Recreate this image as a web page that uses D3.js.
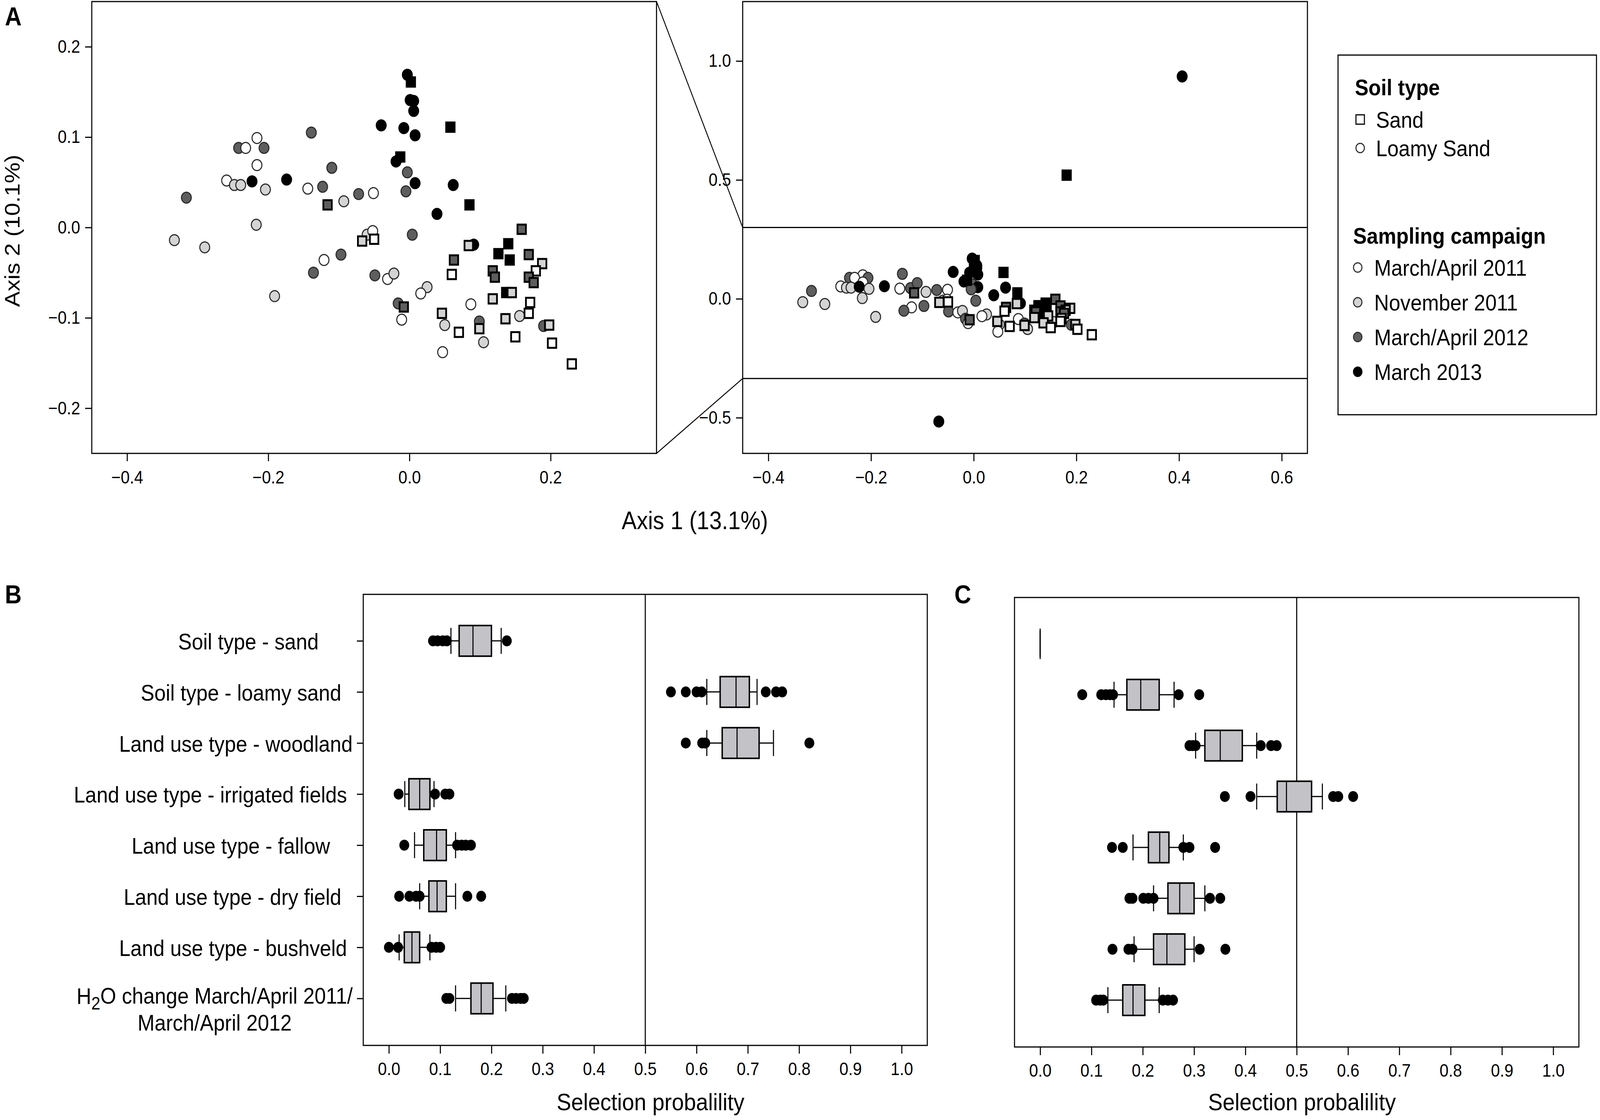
<!DOCTYPE html>
<html lang="en">
<head>
<meta charset="UTF-8">
<title>PCoA and selection probability</title>
<script src="https://d3js.org/d3.v7.min.js"></script>
<style>
  html, body { margin: 0; padding: 0; background: white; overflow: hidden; }
  svg { display: block; width: 100vw; height: 100vh; font-family: "Liberation Sans", Arial, sans-serif; }
  .tick text { fill: black; }
</style>
</head>
<body>
<script>
// ---- data ----
const soilTypes = ["Sand", "Loamy Sand"];
const campaigns = ["March/April 2011", "November 2011", "March/April 2012", "March 2013"];

// PCoA scores: [axis 1, axis 2, soil type index, campaign index]
const pcoaPoints = [
  [-0.139, 0.105, 1, 2], [-0.216, 0.099, 1, 0], [-0.242, 0.088, 1, 2], [-0.232, 0.088, 1, 0],
  [-0.206, 0.088, 1, 2], [-0.216, 0.069, 1, 0], [-0.259, 0.052, 1, 0], [-0.248, 0.047, 1, 1],
  [-0.239, 0.047, 1, 1], [-0.223, 0.051, 1, 3], [-0.204, 0.042, 1, 1], [-0.174, 0.053, 1, 3],
  [-0.144, 0.043, 1, 0], [-0.123, 0.045, 1, 2], [-0.110, 0.066, 1, 2], [-0.072, 0.037, 1, 2],
  [-0.051, 0.038, 1, 0], [-0.093, 0.029, 1, 1], [-0.316, 0.033, 1, 2], [-0.217, 0.003, 1, 1],
  [-0.333, -0.014, 1, 1], [-0.290, -0.022, 1, 1], [-0.060, -0.008, 1, 1], [-0.052, -0.004, 1, 0],
  [-0.097, -0.030, 1, 2], [-0.121, -0.036, 1, 0], [-0.136, -0.050, 1, 2], [-0.191, -0.076, 1, 1],
  [-0.049, -0.053, 1, 2], [0.004, -0.008, 1, 2], [0.091, -0.019, 1, 3], [-0.031, -0.057, 1, 0],
  [-0.022, -0.051, 1, 1], [0.025, -0.066, 1, 1], [0.016, -0.073, 1, 0], [-0.016, -0.084, 1, 2],
  [-0.011, -0.102, 1, 0], [0.087, -0.085, 1, 0], [0.156, -0.098, 1, 1], [0.050, -0.108, 1, 1],
  [0.099, -0.104, 1, 2], [0.105, -0.127, 1, 1], [0.047, -0.138, 1, 0], [0.190, -0.109, 1, 2],
  [-0.003, 0.169, 1, 3], [0.001, 0.141, 1, 3], [0.006, 0.140, 1, 3], [0.006, 0.129, 1, 3],
  [-0.040, 0.113, 1, 3], [-0.008, 0.110, 1, 3], [0.008, 0.102, 1, 3], [-0.019, 0.073, 1, 3],
  [-0.003, 0.061, 1, 2], [0.008, 0.049, 1, 3], [-0.005, 0.040, 1, 2], [0.062, 0.047, 1, 3],
  [0.039, 0.015, 1, 3], [0.406, 0.935, 1, 3], [-0.068, -0.516, 1, 3],
  [-0.116, 0.025, 0, 2], [-0.067, -0.015, 0, 1], [-0.050, -0.013, 0, 0], [0.159, -0.002, 0, 2],
  [0.084, -0.020, 0, 1], [0.140, -0.018, 0, 3], [0.126, -0.029, 0, 3], [0.142, -0.036, 0, 3],
  [0.169, -0.030, 0, 2], [0.063, -0.036, 0, 2], [0.060, -0.052, 0, 0], [0.118, -0.048, 0, 2],
  [0.121, -0.055, 0, 2], [0.188, -0.040, 0, 1], [0.179, -0.048, 0, 0], [0.169, -0.055, 0, 2],
  [0.176, -0.061, 0, 2], [-0.008, -0.088, 0, 2], [0.137, -0.072, 0, 3], [0.145, -0.072, 0, 1],
  [0.118, -0.079, 0, 1], [0.171, -0.083, 0, 0], [0.169, -0.095, 0, 0], [0.136, -0.101, 0, 1],
  [0.046, -0.095, 0, 1], [0.099, -0.112, 0, 1], [0.070, -0.116, 0, 0], [0.150, -0.121, 0, 0],
  [0.198, -0.108, 0, 1], [0.202, -0.128, 0, 0], [0.230, -0.151, 0, 0], [0.002, 0.161, 0, 3],
  [0.058, 0.111, 0, 3], [-0.013, 0.078, 0, 3], [0.085, 0.025, 0, 3], [0.181, 0.520, 0, 3]
];

// predictors (trailing spaces as in the original labels)
const predictorLabels = [
  "Soil type - sand\u00a0\u00a0\u00a0\u00a0\u00a0\u00a0",
  "Soil type - loamy sand\u00a0\u00a0",
  "Land use type - woodland",
  "Land use type - irrigated fields\u00a0",
  "Land use type - fallow\u00a0\u00a0\u00a0\u00a0",
  "Land use type - dry field\u00a0\u00a0",
  "Land use type - bushveld\u00a0",
  "H2O change March/April 2011/\nMarch/April 2012"
];

// [lower whisker, Q1, median, Q3, upper whisker]
const statsB = [
  [0.121, 0.137, 0.164, 0.200, 0.219],
  [0.620, 0.646, 0.677, 0.703, 0.718],
  [0.620, 0.650, 0.679, 0.722, 0.750],
  [0.031, 0.039, 0.060, 0.080, 0.088],
  [0.050, 0.068, 0.093, 0.112, 0.130],
  [0.060, 0.078, 0.094, 0.112, 0.130],
  [0.020, 0.030, 0.045, 0.060, 0.080],
  [0.130, 0.160, 0.180, 0.203, 0.228]
];
const outliersB = [
  [0.086, 0.095, 0.105, 0.113, 0.230],
  [0.550, 0.579, 0.600, 0.610, 0.735, 0.755, 0.767],
  [0.579, 0.611, 0.617, 0.820],
  [0.019, 0.090, 0.110, 0.118],
  [0.030, 0.133, 0.142, 0.150, 0.160],
  [0.020, 0.040, 0.053, 0.060, 0.153, 0.180],
  [0.000, 0.018, 0.083, 0.092, 0.100],
  [0.112, 0.118, 0.240, 0.248, 0.257, 0.263]
];

const statsC = [
  [0, 0, 0, 0, 0],
  [0.144, 0.169, 0.196, 0.232, 0.261],
  [0.303, 0.321, 0.351, 0.394, 0.422],
  [0.422, 0.462, 0.480, 0.529, 0.550],
  [0.181, 0.211, 0.233, 0.251, 0.279],
  [0.221, 0.249, 0.272, 0.300, 0.321],
  [0.183, 0.221, 0.247, 0.282, 0.300],
  [0.132, 0.161, 0.181, 0.204, 0.232]
];
const outliersC = [
  [],
  [0.082, 0.119, 0.128, 0.136, 0.142, 0.270, 0.310],
  [0.291, 0.297, 0.303, 0.430, 0.450, 0.461],
  [0.360, 0.410, 0.571, 0.581, 0.610],
  [0.140, 0.161, 0.279, 0.291, 0.341],
  [0.174, 0.180, 0.201, 0.211, 0.221, 0.331, 0.351],
  [0.141, 0.172, 0.180, 0.311, 0.361],
  [0.109, 0.117, 0.123, 0.239, 0.249, 0.259]
];

const probTicks = [0, 0.1, 0.2, 0.3, 0.4, 0.5, 0.6, 0.7, 0.8, 0.9, 1.0];

// ---- setup ----
// drawn in a fixed 4550 x 2868 coordinate space, scaled to the window
const W = 4550, H = 2868;
const svg = d3.select("body").append("svg")
  .attr("viewBox", `0 0 ${W} ${H}`)
  .attr("preserveAspectRatio", "none");
svg.append("rect").attr("width", W).attr("height", H).attr("fill", "white");

const campFill = ["#ffffff", "#d4d4d4", "#5e5e5e", "#000000"];
const fmt = d3.format(".1f");
const tickFont = 46;

function styleAxis(g) {
  g.select(".domain").remove();
  g.selectAll(".tick line").attr("stroke", "#000").attr("stroke-width", 3);
  g.selectAll(".tick text").style("font-size", tickFont + "px").style("font-family", "Liberation Sans, Arial, sans-serif");
}

function frame(x0, y0, x1, y1) {
  svg.append("rect").attr("x", x0).attr("y", y0).attr("width", x1 - x0).attr("height", y1 - y0)
    .attr("fill", "none").attr("stroke", "#000").attr("stroke-width", 3);
}

function drawPoints(g, x, y) {
  // circles first, squares on top
  g.selectAll("circle.pt").data(pcoaPoints.filter(d => d[2] === 1)).join("circle")
    .attr("class", "pt")
    .attr("cx", d => x(d[0])).attr("cy", d => y(d[1])).attr("r", 14)
    .attr("fill", d => campFill[d[3]])
    .attr("stroke", d => d[3] === 3 ? "#000" : "#2b2b2b").attr("stroke-width", 3);
  g.selectAll("rect.pt").data(pcoaPoints.filter(d => d[2] === 0)).join("rect")
    .attr("class", "pt")
    .attr("x", d => x(d[0]) - 12).attr("y", d => y(d[1]) - 12)
    .attr("width", 24).attr("height", 24)
    .attr("fill", d => campFill[d[3]])
    .attr("stroke", "#000").attr("stroke-width", 5);
}

// ---- panel A, left (zoomed) ----
const xL = d3.scaleLinear().domain([-0.45, 0.35]).range([261, 1867]);
const yL = d3.scaleLinear().domain([-0.25, 0.25]).range([1161, 4]);

svg.append("clipPath").attr("id", "clipL").append("rect")
  .attr("x", 261).attr("y", 4).attr("width", 1867 - 261).attr("height", 1161 - 4);
drawPoints(svg.append("g").attr("clip-path", "url(#clipL)"), xL, yL);

svg.append("g").attr("transform", "translate(0,1161)")
  .call(d3.axisBottom(xL).tickValues([-0.4, -0.2, 0, 0.2]).tickFormat(fmt).tickSize(20).tickPadding(24))
  .call(styleAxis);
svg.append("g").attr("transform", "translate(261,0)")
  .call(d3.axisLeft(yL).tickValues([-0.2, -0.1, 0, 0.1, 0.2]).tickFormat(fmt).tickSize(19).tickPadding(14))
  .call(styleAxis);
frame(261, 4, 1867, 1161);

// ---- panel A, right (full range) ----
const xR = d3.scaleLinear().domain([-0.45, 0.65]).range([2112, 3718]);
const yR = d3.scaleLinear().domain([-0.65, 1.25]).range([1161, 4]);
const bandTop = 0.3, bandBottom = -0.335;

drawPoints(svg.append("g"), xR, yR);

svg.append("g").attr("transform", "translate(0,1161)")
  .call(d3.axisBottom(xR).tickValues([-0.4, -0.2, 0, 0.2, 0.4, 0.6]).tickFormat(fmt).tickSize(20).tickPadding(24))
  .call(styleAxis);
svg.append("g").attr("transform", "translate(2112,0)")
  .call(d3.axisLeft(yR).tickValues([-0.5, 0, 0.5, 1.0]).tickFormat(fmt).tickSize(19).tickPadding(14))
  .call(styleAxis);
frame(2112, 4, 3718, 1161);

[bandTop, bandBottom].forEach(v => {
  svg.append("line").attr("x1", 2112).attr("x2", 3718).attr("y1", yR(v)).attr("y2", yR(v))
    .attr("stroke", "#000").attr("stroke-width", 3);
});
// connector lines from the zoomed box to the band
svg.append("line").attr("x1", xL.range()[1]).attr("y1", yL.range()[1])
  .attr("x2", xR.range()[0]).attr("y2", yR(bandTop)).attr("stroke", "#000").attr("stroke-width", 2.5);
svg.append("line").attr("x1", xL.range()[1]).attr("y1", yL.range()[0])
  .attr("x2", xR.range()[0]).attr("y2", yR(bandBottom)).attr("stroke", "#000").attr("stroke-width", 2.5);

// axis titles
svg.append("text").attr("x", 1976).attr("y", 1355).attr("text-anchor", "middle")
  .style("font-size", "64px").text("Axis 1 (13.1%)");
svg.append("text").attr("transform", "translate(55,591) rotate(-90)").attr("text-anchor", "middle")
  .style("font-size", "60px").text("Axis 2 (10.1%)");

// ---- legend ----
frame(3805, 141, 4540, 1062);
const lg = svg.append("g").style("font-size", "58px");
lg.append("text").attr("x", 3853).attr("y", 244).style("font-weight", "bold").text("Soil type");
soilTypes.forEach((s, i) => {
  const cy = 306 + i * 73;
  if (i === 0) {
    lg.append("rect").attr("x", 3856).attr("y", cy - 12).attr("width", 24).attr("height", 24)
      .attr("fill", "#fff").attr("stroke", "#000").attr("stroke-width", 3);
  } else {
    lg.append("circle").attr("cx", 3868).attr("cy", cy).attr("r", 12)
      .attr("fill", "#fff").attr("stroke", "#333").attr("stroke-width", 3);
  }
  lg.append("text").attr("x", 3913).attr("y", cy + 21).text(s);
});
lg.append("text").attr("x", 3848).attr("y", 624).style("font-weight", "bold").text("Sampling campaign");
campaigns.forEach((c, i) => {
  const cy = 685 + i * 89;
  lg.append("circle").attr("cx", 3861).attr("cy", cy).attr("r", 12)
    .attr("fill", campFill[i]).attr("stroke", i === 3 ? "#000" : "#333").attr("stroke-width", 3);
  lg.append("text").attr("x", 3908).attr("y", cy + 21).text(c);
});

// ---- box plots ----
function drawBoxes(g, x, y, stats, outs) {
  const half = (y(1.3) - y(1));
  const cap = half * 0.85;
  stats.forEach((s, i) => {
    const cy = y(i + 1);
    const [lo, q1, med, q3, hi] = s;
    const row = g.append("g");
    row.append("line").attr("x1", x(lo)).attr("x2", x(q1)).attr("y1", cy).attr("y2", cy);
    row.append("line").attr("x1", x(q3)).attr("x2", x(hi)).attr("y1", cy).attr("y2", cy);
    row.append("line").attr("x1", x(lo)).attr("x2", x(lo)).attr("y1", cy - cap).attr("y2", cy + cap);
    row.append("line").attr("x1", x(hi)).attr("x2", x(hi)).attr("y1", cy - cap).attr("y2", cy + cap);
    row.selectAll("line").attr("stroke", "#000").attr("stroke-width", 3);
    row.append("rect").attr("x", x(q1)).attr("y", cy - half).attr("width", x(q3) - x(q1)).attr("height", 2 * half)
      .attr("fill", "#c3c3c7").attr("stroke", "#000").attr("stroke-width", 4);
    row.append("line").attr("x1", x(med)).attr("x2", x(med)).attr("y1", cy - half).attr("y2", cy + half)
      .attr("stroke", "#000").attr("stroke-width", 3);
    row.selectAll("circle").data(outs[i]).join("circle")
      .attr("cx", d => x(d)).attr("cy", cy).attr("r", 14).attr("fill", "#000");
  });
}

function boxPanel(x0, x1, y0, y1, stats, outs, withLabels) {
  const x = d3.scaleLinear().domain([-0.05, 1.05]).range([x0, x1]);
  const y = d3.scaleLinear().domain([0.09, 8.92]).range([y0, y1]);

  svg.append("line").attr("x1", x(0.5)).attr("x2", x(0.5)).attr("y1", y0).attr("y2", y1)
    .attr("stroke", "#000").attr("stroke-width", 3);
  drawBoxes(svg.append("g"), x, y, stats, outs);

  svg.append("g").attr("transform", `translate(0,${y1})`)
    .call(d3.axisBottom(x).tickValues(probTicks).tickFormat(fmt).tickSize(21).tickPadding(22))
    .call(styleAxis);

  if (withLabels) {
    svg.append("g").attr("transform", `translate(${x0},0)`)
      .call(d3.axisLeft(y).tickValues(d3.range(1, 9)).tickFormat("").tickSize(18))
      .call(styleAxis);
    const lx = x0 - 18 - 12;
    predictorLabels.forEach((lab, i) => {
      const lines = lab.split("\n");
      const cy = y(i + 1);
      if (lines.length === 1) {
        svg.append("text").attr("x", lx).attr("y", cy + 22).attr("text-anchor", "end")
          .style("font-size", "58px").text(lines[0]);
      } else {
        const t1 = svg.append("text").attr("x", lx).attr("y", cy + 14).attr("text-anchor", "end")
          .style("font-size", "58px");
        const m = lines[0].match(/^H2O(.*)$/);
        if (m) {
          t1.append("tspan").text("H");
          t1.append("tspan").attr("dy", "0.32em").style("font-size", "46px").text("2");
          t1.append("tspan").attr("dy", "-0.26em").text("O" + m[1]);
        } else {
          t1.text(lines[0]);
        }
        const w = t1.node().getComputedTextLength();
        svg.append("text").attr("x", lx - w / 2).attr("y", cy + 82).attr("text-anchor", "middle")
          .style("font-size", "58px").text(lines[1]);
      }
    });
  }

  frame(x0, y0, x1, y1);
  svg.append("text").attr("x", x(0.5) + 15).attr("y", 2843).attr("text-anchor", "middle")
    .style("font-size", "62px").text("Selection probalility");
}

boxPanel(1033, 2637, 1522, 2677, statsB, outliersB, true);
boxPanel(2885, 4490, 1530, 2681, statsC, outliersC, false);

// panel letters
const letters = [["A", 14, 65], ["B", 14, 1545], ["C", 2714, 1545]];
letters.forEach(([t, x, y]) => {
  svg.append("text").attr("x", x).attr("y", y).style("font-size", "66px")
    .style("font-weight", "bold").text(t);
});
</script>
</body>
</html>
